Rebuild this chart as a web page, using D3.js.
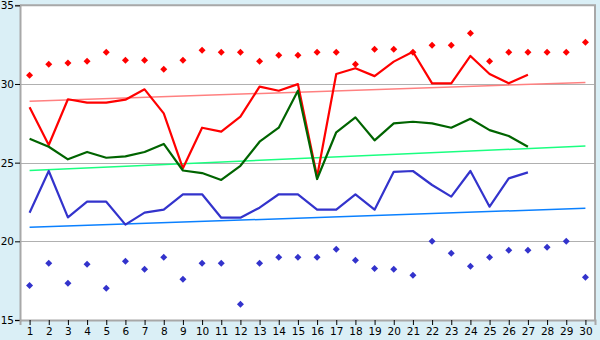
<!DOCTYPE html>
<html>
<head>
<meta charset="utf-8">
<script src="https://cdn.jsdelivr.net/npm/d3@7"></script>
<style>
  body { margin: 0; background: #daeff6; }
  svg { display: block; font-family: "DejaVu Sans", Verdana, sans-serif; }
</style>
</head>
<body>
<div id="chart"></div>
<script>
const days = d3.range(1, 31);

const redPoints = [30.55, 31.25, 31.33, 31.44, 32.01, 31.5, 31.5, 30.93, 31.5, 32.14,
  32.01, 32.01, 31.44, 31.82, 31.82, 32.01, 32.01, 31.25, 32.2, 32.2,
  32.01, 32.46, 32.46, 33.22, 31.44, 32.01, 32.01, 32.01, 32.01, 32.65];
const redLine = [28.52, 26.12, 29.03, 28.81, 28.81, 29.0, 29.66, 28.13, 24.64, 27.22,
  26.97, 27.92, 29.83, 29.57, 29.99, 24.1, 30.63, 31.0, 30.5, 31.42,
  32.05, 30.04, 30.04, 31.78, 30.63, 30.04, 30.59];
const greenLine = [26.52, 26.01, 25.21, 25.68, 25.31, 25.4, 25.68, 26.19, 24.5, 24.34,
  23.9, 24.8, 26.33, 27.22, 29.57, 23.96, 26.93, 27.88, 26.42, 27.5,
  27.6, 27.5, 27.22, 27.79, 27.07, 26.69, 26.01];
const blueLine = [21.82, 24.47, 21.52, 22.52, 22.52, 21.06, 21.82, 22.01, 22.99, 22.99,
  21.5, 21.5, 22.14, 22.99, 22.99, 22.01, 22.01, 22.99, 22.01, 24.42,
  24.47, 23.58, 22.84, 24.47, 22.2, 24.0, 24.38];
const bluePoints = [17.2, 18.6, 17.33, 18.54, 17.01, 18.73, 18.22, 18.98, 17.59, 18.6,
  18.6, 16.0, 18.6, 18.98, 18.98, 18.98, 19.49, 18.79, 18.28, 18.22,
  17.84, 20.0, 19.24, 18.41, 18.98, 19.43, 19.43, 19.62, 20.0, 17.71];
// trend lines: value at day 1 and day 30
const redTrend = [28.9, 30.1];
const greenTrend = [24.5, 26.06];
const blueTrend = [20.89, 22.1];
const yTicks = [15, 20, 25, 30, 35];

const width = 600, height = 340;
const svg = d3.select("#chart").append("svg").attr("width", width).attr("height", height);

const x = d3.scaleLinear().domain([0.5, 30.5]).range([20, 595]);
const y = d3.scaleLinear().domain([15, 35]).range([320, 5.3]);

// plot background
svg.append("rect")
  .attr("x", x(0.5)).attr("y", y(35))
  .attr("width", x(30.5) - x(0.5)).attr("height", y(15) - y(35))
  .attr("fill", "#fff");

// grid
svg.append("g")
  .selectAll("line")
  .data(yTicks.slice(1, -1))
  .join("line")
  .attr("x1", x(0.5)).attr("x2", x(30.5))
  .attr("y1", d => Math.round(y(d)) + 0.5).attr("y2", d => Math.round(y(d)) + 0.5)
  .attr("stroke", "#b0b0b0");

svg.append("path")
  .attr("d", `M${x(0.5)},${y(35)}H${x(30.5)}V${y(15)}`)
  .attr("fill", "none").attr("stroke", "#a8a8a8").attr("stroke-width", 2);

// axes
const yAxis = svg.append("g")
  .attr("transform", `translate(${x(0.5)},0)`)
  .call(d3.axisLeft(y).tickValues(yTicks).tickSize(5).tickPadding(1));
const xAxis = svg.append("g")
  .attr("transform", `translate(0,${y(15)})`)
  .call(d3.axisBottom(x).tickValues(days).tickSize(5).tickPadding(3));
[yAxis, xAxis].forEach(a => {
  a.select(".domain").attr("stroke", "#a8a8a8").attr("stroke-width", 2);
  a.selectAll(".tick line").attr("stroke", "#000");
  a.selectAll("text").attr("fill", "#000").style("font-size", "10.5px")
    .style("font-family", "'DejaVu Sans', Verdana, sans-serif");
});

// trend lines
const trends = [[redTrend, "#ff8080"], [greenTrend, "#1aff80"], [blueTrend, "#0a80ff"]];
svg.append("g")
  .selectAll("line")
  .data(trends)
  .join("line")
  .attr("x1", x(1)).attr("x2", x(30))
  .attr("y1", d => y(d[0][0])).attr("y2", d => y(d[0][1]))
  .attr("stroke", d => d[1]).attr("stroke-width", 1.5);

// series lines
const line = d3.line().x((d, i) => x(i + 1)).y(d => y(d));
const series = [[redLine, "#ff0000"], [greenLine, "#006400"], [blueLine, "#3333cc"]];
svg.append("g")
  .selectAll("path")
  .data(series)
  .join("path")
  .attr("d", d => line(d[0]))
  .attr("fill", "none")
  .attr("stroke", d => d[1])
  .attr("stroke-width", 2.2)
  .attr("stroke-linejoin", "round");

// point markers (small diamonds)
const diamond = "M0,-3.5L3.5,0L0,3.5L-3.5,0Z";
[[redPoints, "#ff0000"], [bluePoints, "#3333cc"]].forEach(([vals, col]) => {
  svg.append("g")
    .selectAll("path")
    .data(vals)
    .join("path")
    .attr("transform", (d, i) => `translate(${x(i + 1)},${y(d)})`)
    .attr("d", diamond)
    .attr("fill", col);
});
</script>
</body>
</html>
